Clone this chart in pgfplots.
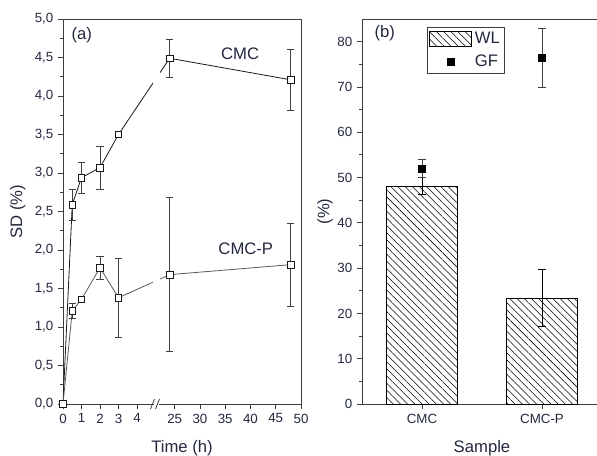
\documentclass[border=0pt]{standalone}
\usepackage{fontspec}
\setmainfont{Liberation Sans}
\usepackage{pgfplots}
\pgfplotsset{compat=1.18}
\usetikzlibrary{patterns.meta}
\definecolor{txt}{RGB}{35,40,62}
\definecolor{ax}{RGB}{60,60,60}
\pgfplotsset{
  panel/.style={
    scale only axis, height=288.75pt,
    axis line style={ax, line width=0.6pt},
    every tick/.style={ax, line width=0.6pt},
    tick align=outside,
    major tick length=3.75pt, minor tick length=2.25pt,
    xtick pos=left, ytick pos=left,
    tick label style={font=\fontsize{10}{12}\selectfont, text=txt},
    label style={font=\fontsize{12.5}{15}\selectfont, text=txt},
    /pgf/number format/assume math mode=true,
    clip=false,
  },
  wl legend/.style={legend image code/.code={\draw[##1] (0pt,-5.5pt) rectangle (31.5pt,5.5pt);}},
  gf legend/.style={legend image code/.code={\draw[##1] plot coordinates {(15.75pt,0pt)};}},
}
\begin{document}
\begin{tikzpicture}
% (a) swelling degree, broken time axis
\begin{axis}[panel, at={(47.25pt,38.25pt)}, anchor=south west, width=178.5pt,
  xmin=0, xmax=50, ymin=0, ymax=5,
  x coord trafo/.code={\pgfmathparse{#1<=10 ? #1 : 5+(#1-21.2)*0.2731}},
  xtick={0,1,2,3,4,25,30,35,40,45,50},
  xticklabels={0,1,2,3,4,25,30,35,40,45,50},
  ytick={0,0.5,1,1.5,2,2.5,3,3.5,4,4.5,5}, minor y tick num=1,
  yticklabel style={/pgf/number format/use comma, /pgf/number format/fixed,
    /pgf/number format/fixed zerofill, /pgf/number format/precision=1},
  xlabel={Time (h)}, ylabel={SD (\%)},
  xlabel style={at={(axis description cs:0.5,-0.114)}, anchor=center},
  ylabel style={at={(axis description cs:-0.19,0.5)}, anchor=center},
]
\addplot[black!90, line width=0.6pt, mark=square*, mark size=2.5pt,
  mark options={fill=white, draw=black!90, solid},
  error bars/.cd, y dir=both, y explicit,
  error bar style={black!75, line width=0.6pt},
  error mark options={rotate=90, mark size=2.7pt, black!75}]
  coordinates {
  (0,0) +- (0,0)
  (0.5,2.59) +- (0,0.2)
  (1,2.94) +- (0,0.2)
  (2,3.07) +- (0,0.28)
  (3,3.50) +- (0,0.03)
  (24,4.49) +- (0,0.25)
  (48,4.21) +- (0,0.40)
  };
\addplot[black!65, line width=0.6pt, mark=square*, mark size=2.5pt,
  mark options={fill=white, draw=black!90, solid},
  error bars/.cd, y dir=both, y explicit,
  error bar style={black!75, line width=0.6pt},
  error mark options={rotate=90, mark size=2.7pt, black!75}]
  coordinates {
  (0,0) +- (0,0)
  (0.5,1.21) +- (0,0.10)
  (1,1.36) +- (0,0.02)
  (2,1.77) +- (0,0.15)
  (3,1.38) +- (0,0.51)
  (24,1.68) +- (0,1.0)
  (48,1.81) +- (0,0.54)
  };
\fill[white] (axis cs:4.85,0.03) rectangle (axis cs:22.1,4.97);
\node[font=\fontsize{12.5}{15}\selectfont, text=txt] at (axis description cs:0.0785,0.958) {(a)};
\node[font=\fontsize{12.5}{15}\selectfont, text=txt] at (axis description cs:0.744,0.911) {CMC};
\node[font=\fontsize{12.5}{15}\selectfont, text=txt] at (axis description cs:0.768,0.404) {CMC-P};
\end{axis}

% (b) weight loss and gel fraction
\begin{axis}[panel, at={(271.5pt,38.25pt)}, anchor=south west, width=180pt,
  xmin=-0.5, xmax=1.5, ymin=0, ymax=85,
  xtick={0,1}, xticklabels={CMC,CMC-P},
  ytick={0,10,20,30,40,50,60,70,80}, minor y tick num=1,
  xlabel={Sample}, ylabel={(\%)},
  xlabel style={at={(axis description cs:0.5,-0.115)}, anchor=center},
  ylabel style={at={(axis description cs:-0.154,0.5)}, anchor=center},
  legend style={at={(axis description cs:0.271,0.979)}, anchor=north west,
    draw=ax, line width=0.6pt, font=\fontsize{12.5}{15}\selectfont, text=txt,
    inner sep=1.5pt, row sep=3pt},
  legend cell align=left,
]
\addplot[ybar, bar width=53.25pt, draw=black, line width=0.6pt,
  pattern={Lines[angle=-45,distance=3.8pt,line width=0.4pt]}, pattern color=black,
  wl legend,
  error bars/.cd, y dir=both, y explicit,
  error bar style={black, line width=0.6pt},
  error mark options={rotate=90, mark size=2.7pt, black}]
  coordinates {(0,48.1) +- (0,1.9) (1,23.4) +- (0,6.3)};
\addlegendentry{WL}
\addplot[only marks, mark=square*, mark size=2.6pt, black, gf legend,
  error bars/.cd, y dir=both, y explicit,
  error bar style={black!75, line width=0.6pt},
  error mark options={rotate=90, mark size=2.7pt, black!75}]
  coordinates {(0,52.0) +- (0,2.0) (1,76.5) +- (0,6.5)};
\addlegendentry{GF}
\node[font=\fontsize{12.5}{15}\selectfont, text=txt] at (axis description cs:0.0946,0.963) {(b)};
\end{axis}

% axis break mark
\begin{scope}[x=0.75pt, y=-0.75pt, shift={(0pt,341.25pt)}]
\fill[white] (154.3,400) rectangle (158.7,408);
\draw[ax, line width=0.6pt] (150.5,409) -- (154.5,399) (155.5,409) -- (159.5,399);
\end{scope}
\pgfresetboundingbox
\useasboundingbox (0,0) rectangle (447.75pt,341.25pt);
\end{tikzpicture}
\end{document}
